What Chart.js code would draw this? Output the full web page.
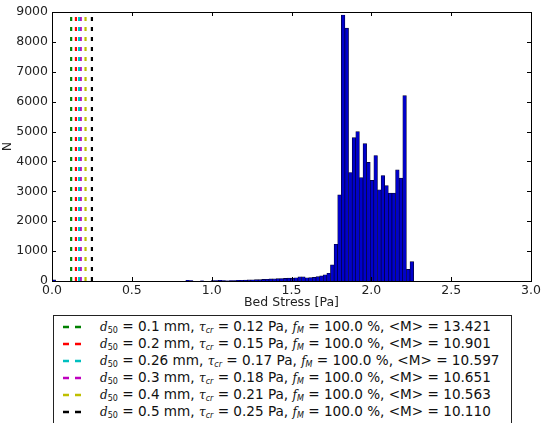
<!DOCTYPE html>
<html>
<head>
<meta charset="utf-8">
<script src="https://cdn.jsdelivr.net/npm/chart.js@4.4.0/dist/chart.umd.min.js"></script>
<style>
    body { margin: 0; background: #fff; width: 543px; height: 423px; overflow: hidden; position: relative; }
    #chartBox { position: absolute; left: 0; top: 0; width: 543px; height: 312px; }
    #legend {
        position: absolute; left: 53px; top: 315px; width: 459px; height: 130px;
        border: 1px solid #222; box-sizing: border-box; padding-top: 2px;
        font-family: "DejaVu Sans", sans-serif; font-size: 13.6px; color: #111;
    }
    .row { position: relative; height: 17px; line-height: 17px; white-space: nowrap; }
    .row svg { position: absolute; left: 9px; top: 7px; }
    .row .txt { position: absolute; left: 46px; top: 0; }
    .m { font-family: "DejaVu Serif", serif; font-style: italic; font-size: 12px; }
    .row sub { font-size: 8px; vertical-align: -2px; }
</style>
</head>
<body>
<div id="chartBox"><canvas id="histChart"></canvas></div>
<div id="legend"></div>
<script>
// Histogram data: 100 bins spanning the bed stress range
const binMin = 0.0;
const binMax = 2.265;
const counts = [
    40, 0, 0, 0, 0, 0, 0, 0, 0, 0,
    0, 0, 0, 0, 0, 0, 0, 0, 0, 0,
    0, 0, 0, 0, 0, 0, 0, 0, 0, 0,
    0, 0, 0, 0, 0, 0, 0, 20, 10, 0,
    0, 5, 0, 0, 15, 10, 20, 15, 5, 10,
    15, 20, 25, 30, 35, 40, 45, 50, 55, 60,
    70, 75, 80, 85, 90, 95, 100, 110, 140, 140,
    110, 115, 125, 150, 170, 210, 260, 540, 1230, 2880,
    8900, 8460, 3630, 4800, 5000, 3460, 4600, 3970, 3370, 4200,
    3050, 3530, 3190, 2940, 2940, 3720, 3440, 6200, 390, 650
];

// Critical stresses per grain size (vertical dashed lines)
const tauCr = [0.12, 0.15, 0.17, 0.18, 0.21, 0.25];
const lineColors = ['#008000', '#ff0000', '#00bfbf', '#bf00bf', '#bfbf00', '#000000'];
const d50Labels = ['0.1', '0.2', '0.26', '0.3', '0.4', '0.5'];
const tauLabels = ['0.12', '0.15', '0.17', '0.18', '0.21', '0.25'];
const fmLabels = ['100.0', '100.0', '100.0', '100.0', '100.0', '100.0'];
const meanM = ['13.421', '10.901', '10.597', '10.651', '10.563', '10.110'];

// Axes
const xTickStep = 0.5;
const xRange = [0, 3];
const yTickStep = 1000;
const yRange = [0, 9000];

const binWidth = (binMax - binMin) / counts.length;
const barData = counts.map((c, i) => ({ x: binMin + (i + 0.5) * binWidth, y: c }));
const lineTop = Math.max(...counts);

const datasets = [{
    type: 'bar',
    data: barData,
    backgroundColor: '#0000cc',
    borderColor: '#000033',
    borderWidth: 0.7,
    barPercentage: 1,
    categoryPercentage: 1,
    order: 2
}];
tauCr.forEach((t, i) => {
    datasets.push({
        type: 'line',
        data: [{ x: t, y: 0 }, { x: t, y: lineTop }],
        borderColor: lineColors[i],
        borderWidth: 2.2,
        borderDash: [4, 6],
        pointRadius: 0,
        fill: false,
        order: 1
    });
});

// Frame + inward tick marks on all four sides (classic matplotlib look)
const frameTicks = {
    id: 'frameTicks',
    afterDraw(chart) {
        const { ctx, chartArea: a, scales } = chart;
        ctx.save();
        ctx.strokeStyle = '#000';
        ctx.lineWidth = 1;
        ctx.strokeRect(a.left + 0.5, a.top + 0.5, a.right - a.left, a.bottom - a.top);
        ctx.beginPath();
        scales.x.ticks.forEach(t => {
            const px = Math.round(scales.x.getPixelForValue(t.value)) + 0.5;
            ctx.moveTo(px, a.bottom); ctx.lineTo(px, a.bottom - 4);
            ctx.moveTo(px, a.top); ctx.lineTo(px, a.top + 4);
        });
        scales.y.ticks.forEach(t => {
            const py = Math.round(scales.y.getPixelForValue(t.value)) + 0.5;
            ctx.moveTo(a.left, py); ctx.lineTo(a.left + 4, py);
            ctx.moveTo(a.right, py); ctx.lineTo(a.right - 4, py);
        });
        ctx.stroke();
        ctx.restore();
    }
};

const tickFont = { family: 'DejaVu Sans', size: 12.5 };

new Chart(document.getElementById('histChart').getContext('2d'), {
    type: 'bar',
    data: { datasets },
    options: {
        responsive: true,
        maintainAspectRatio: false,
        animation: false,
        layout: { padding: { top: 12, right: 12, left: 0, bottom: 0 } },
        plugins: { legend: { display: false }, tooltip: { enabled: false } },
        scales: {
            x: {
                type: 'linear',
                offset: false,
                min: xRange[0],
                max: xRange[1],
                grid: { display: false, drawTicks: false, offset: false },
                border: { display: false },
                ticks: {
                    stepSize: xTickStep,
                    padding: 2,
                    color: '#222',
                    font: tickFont,
                    maxRotation: 0,
                    callback: v => v.toFixed(1)
                },
                title: { display: true, text: 'Bed Stress [Pa]', color: '#222', font: tickFont, padding: { top: 0, bottom: 2 } },
                afterFit: s => { s.height = 31; }
            },
            y: {
                min: yRange[0],
                max: yRange[1],
                grid: { display: false, drawTicks: false },
                border: { display: false },
                ticks: { stepSize: yTickStep, padding: 4, color: '#222', font: tickFont, callback: v => String(v) },
                title: { display: true, text: 'N', color: '#222', font: tickFont, padding: { top: 0, bottom: 0 } },
                afterFit: s => { s.width = 52; }
            }
        }
    },
    plugins: [frameTicks]
});

// Legend below the axes, with math-style labels
const legend = document.getElementById('legend');
legend.innerHTML = tauCr.map((t, i) => `
    <div class="row">
        <svg width="26" height="4"><line x1="0" y1="2" x2="20" y2="2" stroke="${lineColors[i]}" stroke-width="2.5" stroke-dasharray="6 6"/></svg>
        <span class="txt"><span class="m">d</span><sub>50</sub> = ${d50Labels[i]} mm, <span class="m">τ</span><sub><i>cr</i></sub> = ${tauLabels[i]} Pa, <span class="m">f</span><sub><i>M</i></sub> = ${fmLabels[i]} %, &lt;M&gt; = ${meanM[i]}</span>
    </div>`).join('');
</script>
</body>
</html>
